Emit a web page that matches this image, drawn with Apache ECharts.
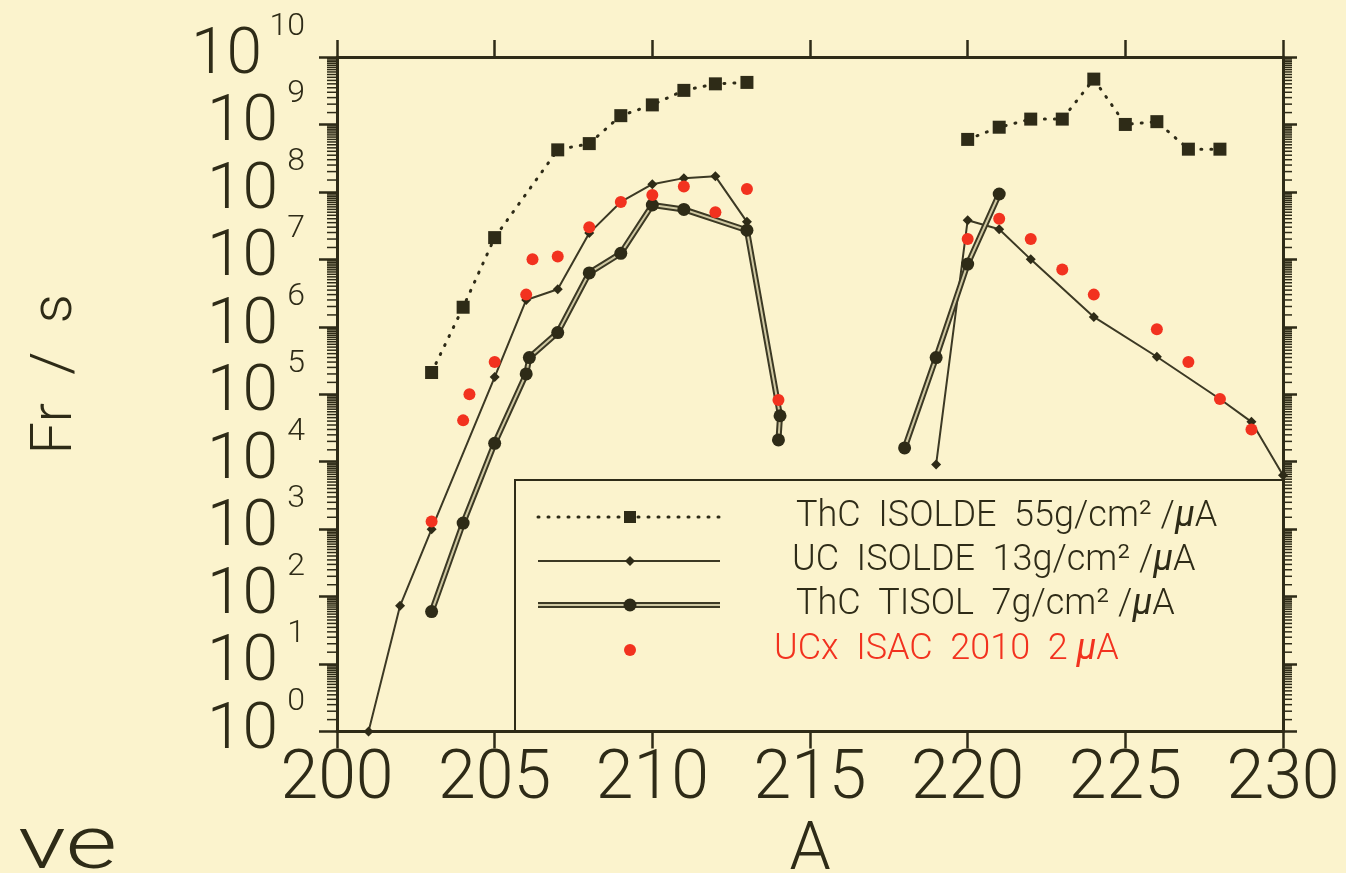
<!DOCTYPE html>
<html>
<head>
<meta charset="utf-8">
<title>Fr/s yields</title>
<script src="https://cdn.jsdelivr.net/npm/echarts@6/dist/echarts.min.js"></script>
<style>
html, body { margin: 0; padding: 0; background: #FBF3CD; }
#main { width: 1346px; height: 873px; }
</style>
</head>
<body>
<div id="main"></div>
<script>
// mass number A and Fr/s yields (null = break in the line)
var thcIsoldeA = [203, 204, 205, 207, 208, 209, 210, 211, 212, 213, null, 220, 221, 222, 223, 224, 225, 226, 227, 228];
var thcIsoldeY = [2.1e5, 1.95e6, 2.1e7, 4.2e8, 5.2e8, 1.35e9, 1.95e9, 3.2e9, 4.0e9, 4.2e9, null, 6.0e8, 9.1e8, 1.2e9, 1.2e9, 4.7e9, 1.0e9, 1.1e9, 4.3e8, 4.3e8];

var ucIsoldeA = [201, 202, 203, 205, 206, 207, 208, 209, 210, 211, 212, 213, 214.05, null, 219, 220, 221, 222, 224, 226, 228, 229, 230];
var ucIsoldeY = [1, 73, 1.0e3, 1.8e5, 2.5e6, 3.6e6, 2.45e7, 7.1e7, 1.3e8, 1.6e8, 1.7e8, 3.6e7, 4.8e4, null, 9.1e3, 3.8e7, 2.8e7, 1.0e7, 1.4e6, 3.6e5, 8.5e4, 3.9e4, 6.3e3];

var thcTisolA = [203, 204, 205, 206, 206.1, 207, 208, 209, 210, 211, 213, 214.05, 214, null, 218, 219, 220, 221];
var thcTisolY = [60, 1.23e3, 1.87e4, 2.0e5, 3.5e5, 8.2e5, 6.3e6, 1.23e7, 6.4e7, 5.5e7, 2.7e7, 4.8e4, 2.1e4, null, 1.6e4, 3.5e5, 8.5e6, 9.3e7];

var ucxIsacA = [203, 204, 204.2, 205, 206, 206.2, 207, 208, 209, 210, 211, 212, 213, 214, 220, 221, 222, 223, 224, 226, 227, 228, 229];
var ucxIsacY = [1.3e3, 4.1e4, 1.0e5, 3.0e5, 3.0e6, 1.0e7, 1.1e7, 3.0e7, 7.1e7, 9.0e7, 1.2e8, 5.0e7, 1.1e8, 8.2e4, 2.0e7, 4.0e7, 2.0e7, 7.1e6, 3.0e6, 9.2e5, 3.0e5, 8.5e4, 3.0e4];

// axis ranges and minor tick steps inside each decade
var xMin = 200, xMax = 230;
var yMin = 1, yMax = 1e10;
var decades = [0, 1, 2, 3, 4, 5, 6, 7, 8, 9];
var minorSteps = [1.5, 2, 2.5, 3, 3.5, 4, 4.5, 5, 5.5, 6, 6.5, 7, 7.5, 8, 8.5, 9, 9.5];

var legendNames = ['ThC  ISOLDE  55g/cm² /', 'UC  ISOLDE  13g/cm² /', 'ThC  TISOL  7g/cm² /', 'UCx  ISAC  2010  2 '];

var dark = '#2E2B17';
var lineCol = '#3C3924';
var red = '#F2321F';
var bg = '#FBF3CD';
var font = 'Roboto';

function pairs(a, y) {
    return a.map(function (x, i) { return [x, y[i]]; });
}

var minorData = [];
decades.forEach(function (d) {
    minorSteps.forEach(function (k) { minorData.push([xMin, k * Math.pow(10, d)]); });
});

function expOf(v) {
    return Math.round(Math.log10(v));
}

function legendText(i, color) {
    return {
        text: '{n|' + legendNames[i] + '}{m|μ}{n|A}',
        verticalAlign: 'middle',
        rich: {
            n: { fontFamily: font, fontWeight: 300, fontSize: 36, fill: color },
            m: { fontFamily: font, fontStyle: 'italic', fontSize: 36, fill: color }
        }
    };
}

var myChart = echarts.init(document.getElementById('main'));

var axisLineStyle = { color: dark, width: 3 };
var tickStyle = { color: dark, width: 2.5 };

var option = {
    backgroundColor: bg,
    animation: false,
    grid: { left: 337, right: 63, top: 57, bottom: 141.5, containLabel: false, outerBoundsMode: 'none' },
    xAxis: [{
        type: 'value', min: xMin, max: xMax, interval: 5,
        position: 'bottom',
        name: 'A', nameLocation: 'middle', nameGap: 82,
        nameTextStyle: { fontFamily: font, fontWeight: 300, fontSize: 66, color: dark },
        axisLine: { show: true, lineStyle: axisLineStyle },
        axisTick: { show: true, inside: false, length: 17, lineStyle: tickStyle },
        axisLabel: { margin: 15, fontFamily: font, fontWeight: 300, fontSize: 68, color: dark },
        splitLine: { show: false }
    }, {
        type: 'value', min: xMin, max: xMax, interval: 5,
        position: 'top',
        axisLine: { show: true, lineStyle: axisLineStyle },
        axisTick: { show: true, inside: false, length: 17, lineStyle: tickStyle },
        axisLabel: { show: false },
        splitLine: { show: false }
    }],
    yAxis: [{
        // main axis: the "10" of each decade label
        type: 'log', logBase: 10, min: yMin, max: yMax, interval: 1,
        position: 'left',
        name: 'Fr  /  s', nameLocation: 'middle', nameGap: 252, nameRotate: 90,
        nameTextStyle: { fontFamily: font, fontWeight: 300, fontSize: 58, color: dark, padding: [0, 0, 0, 40] },
        axisLine: { show: true, lineStyle: axisLineStyle },
        axisTick: { show: true, inside: false, length: 18, lineStyle: tickStyle },
        axisLabel: {
            margin: 59, showMinLabel: true, showMaxLabel: true,
            fontFamily: font, fontWeight: 300, fontSize: 64, color: dark,
            formatter: function (v) {
                return expOf(v) >= 10 ? '{w|10}' : '10';
            },
            rich: {
                w: { fontFamily: font, fontWeight: 300, fontSize: 64, color: dark, padding: [0, 16, 0, 0] }
            }
        },
        splitLine: { show: false }
    }, {
        type: 'log', logBase: 10, min: yMin, max: yMax, interval: 1,
        position: 'right',
        axisLine: { show: true, lineStyle: axisLineStyle },
        axisTick: { show: true, inside: false, length: 14, lineStyle: tickStyle },
        axisLabel: { show: false },
        splitLine: { show: false }
    }, {
        // exponent of each decade label, raised above the "10"
        type: 'log', logBase: 10, min: yMin, max: yMax, interval: 1,
        position: 'left', offset: 0,
        axisLine: { show: false },
        axisTick: { show: false },
        axisLabel: {
            margin: 32, showMinLabel: true, showMaxLabel: true,
            fontFamily: font, fontWeight: 300, fontSize: 32, color: dark,
            verticalAlign: 'bottom', padding: [0, 0, 14, 0],
            formatter: function (v) { return String(expOf(v)); }
        },
        splitLine: { show: false }
    }],
    series: [{
        // minor log ticks on both y axes
        type: 'custom',
        silent: true,
        clip: false,
        data: minorData,
        renderItem: function (params, api) {
            var v = api.value(1);
            var p = api.coord([xMin, v]);
            var q = api.coord([xMax, v]);
            return {
                type: 'group',
                children: [{
                    type: 'line',
                    shape: { x1: p[0] - 10, y1: p[1], x2: p[0], y2: p[1] },
                    style: { stroke: dark, lineWidth: 1.5 }
                }, {
                    type: 'line',
                    shape: { x1: q[0], y1: q[1], x2: q[0] + 9, y2: q[1] },
                    style: { stroke: dark, lineWidth: 1.5 }
                }]
            };
        }
    }, {
        name: 'ThC ISOLDE',
        type: 'line',
        data: pairs(thcIsoldeA, thcIsoldeY),
        symbol: 'rect', symbolSize: 13,
        itemStyle: { color: dark },
        lineStyle: { color: dark, width: 3, type: [1, 9], cap: 'round' },
        z: 3
    }, {
        name: 'UC ISOLDE',
        type: 'line',
        data: pairs(ucIsoldeA, ucIsoldeY),
        symbol: 'diamond', symbolSize: 10,
        itemStyle: { color: dark },
        lineStyle: { color: lineCol, width: 2 },
        z: 3
    }, {
        // outer part of the double line
        name: 'ThC TISOL outer',
        type: 'line',
        data: pairs(thcTisolA, thcTisolY),
        showSymbol: false,
        lineStyle: { color: lineCol, width: 6 },
        z: 4
    }, {
        name: 'ThC TISOL',
        type: 'line',
        data: pairs(thcTisolA, thcTisolY),
        symbol: 'circle', symbolSize: 13,
        itemStyle: { color: dark },
        lineStyle: { color: '#CFC8A2', width: 2 },
        z: 5
    }, {
        name: 'UCx ISAC',
        type: 'scatter',
        data: pairs(ucxIsacA, ucxIsacY),
        symbol: 'circle', symbolSize: 12,
        itemStyle: { color: red, opacity: 1 },
        z: 6
    }],
    graphic: [{
        type: 'group',
        z: 100,
        children: [{
            type: 'rect',
            shape: { x: 515, y: 480, width: 768, height: 251.5 },
            style: { fill: bg, stroke: dark, lineWidth: 2 }
        }, {
            type: 'line',
            shape: { x1: 538, y1: 517, x2: 720, y2: 517 },
            style: { stroke: dark, lineWidth: 3, lineDash: [1, 9], lineCap: 'round' }
        }, {
            type: 'rect',
            shape: { x: 624, y: 511, width: 12, height: 12 },
            style: { fill: dark }
        }, {
            type: 'line',
            shape: { x1: 538, y1: 561, x2: 720, y2: 561 },
            style: { stroke: lineCol, lineWidth: 2 }
        }, {
            type: 'polygon',
            shape: { points: [[630, 556], [635, 561], [630, 566], [625, 561]] },
            style: { fill: dark }
        }, {
            type: 'line',
            shape: { x1: 538, y1: 605, x2: 720, y2: 605 },
            style: { stroke: lineCol, lineWidth: 6 }
        }, {
            type: 'line',
            shape: { x1: 538, y1: 605, x2: 720, y2: 605 },
            style: { stroke: '#CFC8A2', lineWidth: 2 }
        }, {
            type: 'circle',
            shape: { cx: 630, cy: 605, r: 6.5 },
            style: { fill: dark }
        }, {
            type: 'circle',
            shape: { cx: 630, cy: 650, r: 6 },
            style: { fill: red }
        }, {
            type: 'text', x: 796, y: 517, style: legendText(0, dark)
        }, {
            type: 'text', x: 792, y: 561, style: legendText(1, dark)
        }, {
            type: 'text', x: 796, y: 605, style: legendText(2, dark)
        }, {
            type: 'text', x: 774, y: 650, style: legendText(3, red)
        }]
    }, {
        // slide text cut off at the bottom left
        type: 'text', x: 18, y: 812, scaleX: 1.35, z: 100,
        style: { text: 've', fontFamily: font, fontWeight: 300, fontSize: 74, fill: dark, verticalAlign: 'top' }
    }]
};

myChart.setOption(option);
</script>
</body>
</html>
